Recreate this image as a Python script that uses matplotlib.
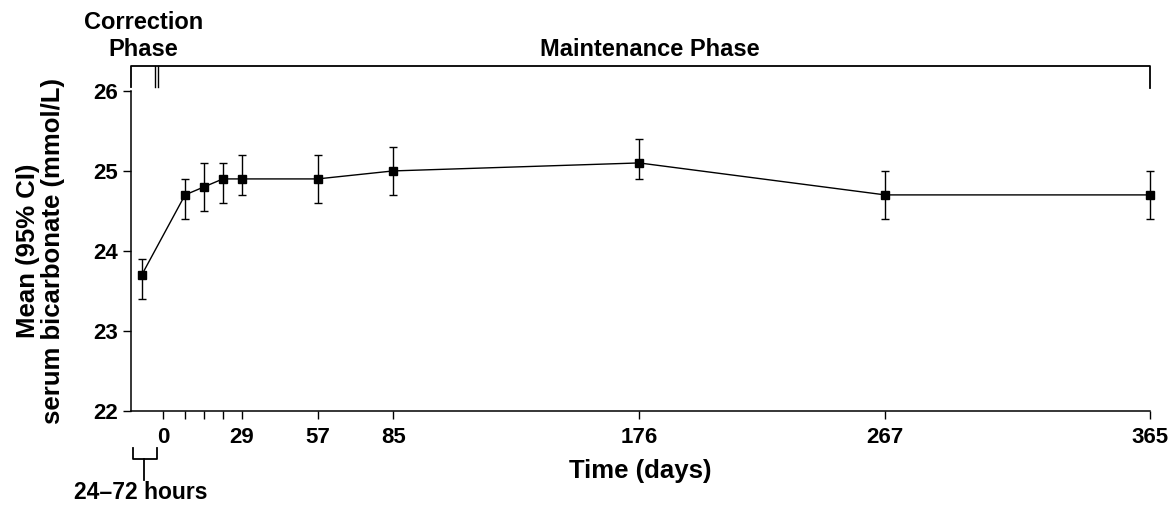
import matplotlib
matplotlib.use("Agg")
import matplotlib.pyplot as plt

plt.rcParams['font.family'] = ['Liberation Sans', 'DejaVu Sans']
plt.rcParams['font.weight'] = 'bold'

# Study day of each visit (baseline drawn before day 0)
days = [-8, 8, 15, 22, 29, 57, 85, 176, 267, 365]
mean_bicarb = [23.7, 24.7, 24.8, 24.9, 24.9, 24.9, 25.0, 25.1, 24.7, 24.7]
ci_low = [23.4, 24.4, 24.5, 24.6, 24.7, 24.6, 24.7, 24.9, 24.4, 24.4]
ci_high = [23.9, 24.9, 25.1, 25.1, 25.2, 25.2, 25.3, 25.4, 25.0, 25.0]

major_ticks = [0, 29, 57, 85, 176, 267, 365]
minor_ticks = [8, 15, 22]
y_ticks = [22, 23, 24, 25, 26]

fig = plt.figure(figsize=(11.75, 5.08), dpi=100)
ax = fig.add_axes([131 / 1175, 1 - 410.7 / 508, (1150 - 131) / 1175, (410.7 - 91) / 508])

yerr = [[m - lo for m, lo in zip(mean_bicarb, ci_low)],
        [hi - m for m, hi in zip(mean_bicarb, ci_high)]]
ax.errorbar(days, mean_bicarb, yerr=yerr, fmt='-s', color='black', lw=1.0,
            elinewidth=1.0, capsize=3, capthick=1.0, markersize=5.8,
            clip_on=False, zorder=3)

ax.set_xlim(-12, 365)
ax.set_ylim(22, 26)
ax.set_xticks(major_ticks)
ax.set_xticks(minor_ticks, minor=True)
ax.set_yticks(y_ticks)
ax.tick_params(axis='x', which='major', direction='out', length=6, width=1,
               labelsize=16, pad=6)
ax.tick_params(axis='y', which='major', direction='out', length=6, width=1,
               labelsize=16, pad=3)
ax.tick_params(axis='x', which='minor', direction='out', length=6, width=1)
for lbl in ax.get_xticklabels() + ax.get_yticklabels():
    lbl.set_fontweight('bold')

ax.spines['top'].set_visible(False)
ax.spines['right'].set_visible(False)
for s in ('left', 'bottom'):
    ax.spines[s].set_linewidth(1.1)

ax.set_xlabel('Time (days)', fontsize=18.5, fontweight='bold', labelpad=8)
ax.set_ylabel('Mean (95% CI)\nserum bicarbonate (mmol/L)', fontsize=18.5,
              fontweight='bold', labelpad=21, linespacing=1.05)

# Phase bracket above the plot
kw = dict(color='black', lw=1.3, clip_on=False, transform=ax.transData)
ax.plot([-12, -12, 365, 365], [26.05, 26.31, 26.31, 26.04], **kw)
ax.plot([-3.1, -3.1], [26.05, 26.31], color='black', lw=1.0, clip_on=False)
ax.plot([-2.1, -2.1], [26.05, 26.31], color='black', lw=1.0, clip_on=False)
ax.text(-7.5, 26.78, 'Correction', ha='center', va='baseline',
        fontsize=17, fontweight='bold', clip_on=False)
ax.text(-7.5, 26.44, 'Phase', ha='center', va='baseline',
        fontsize=17, fontweight='bold', clip_on=False)
ax.text(180, 26.44, 'Maintenance Phase', ha='center', va='baseline',
        fontsize=17, fontweight='bold', clip_on=False)

# Baseline window bracket below the axis
ax.plot([-11.3, -11.3, -2.5, -2.5], [21.53, 21.40, 21.40, 21.53], **kw)
ax.plot([-7.1, -7.1], [21.40, 21.13], **kw)
ax.text(-8.5, 20.90, '24\u201372 hours', ha='center', va='baseline',
        fontsize=16.5, fontweight='bold', clip_on=False)

fig.savefig('out.png', dpi=100)
